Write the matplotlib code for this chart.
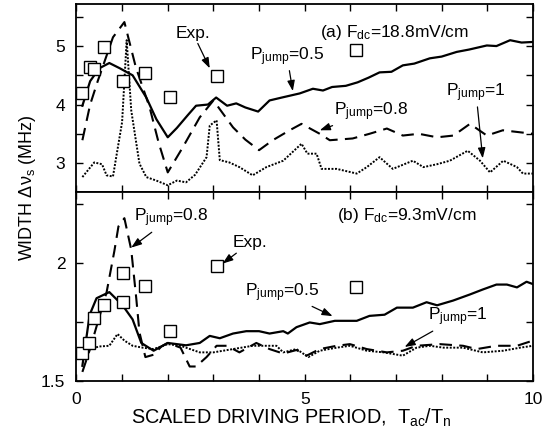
import matplotlib
matplotlib.use("Agg")
import matplotlib.pyplot as plt
from matplotlib.ticker import MultipleLocator

plt.rcParams.update({
    "font.family": ["Liberation Sans", "DejaVu Sans"],
    "mathtext.fontset": "custom",
    "mathtext.rm": "Liberation Sans",
    "mathtext.it": "Liberation Sans",
    "xtick.direction": "in",
    "ytick.direction": "in",
    "xtick.top": True,
    "ytick.right": True,
})

# ---- panel (a): F_dc = 18.8 mV/cm ----
a_exp_x = [0.13, 0.29, 0.39, 0.61, 1.01, 1.51, 2.04, 3.07, 6.12]
a_exp_y = [4.20, 4.65, 4.60, 4.98, 4.40, 4.54, 4.13, 4.48, 4.94]

a_p05_x = [0.13, 0.3, 0.5, 0.72, 0.95, 1.23, 1.53, 1.75, 2.0, 2.2, 2.44, 2.62, 2.88, 3.06,
           3.3, 3.5, 3.7, 3.98, 4.23, 4.5, 4.89, 5.18, 5.4, 5.6, 5.9, 6.16, 6.4, 6.64, 6.9,
           7.15, 7.4, 7.74, 8.0, 8.33, 8.6, 8.99, 9.2, 9.5, 9.75, 10.0]
a_p05_y = [3.98, 4.40, 4.62, 4.71, 4.62, 4.50, 4.12, 3.75, 3.44, 3.60, 3.82, 3.98, 4.00, 4.12,
           3.98, 4.02, 3.95, 3.88, 4.07, 4.12, 4.19, 4.27, 4.24, 4.30, 4.32, 4.38, 4.46, 4.55, 4.56,
           4.67, 4.70, 4.79, 4.82, 4.90, 4.94, 5.01, 5.00, 5.10, 5.06, 5.07]

a_p08_x = [0.13, 0.3, 0.47, 0.8, 1.05, 1.3, 1.6, 1.8, 2.0, 2.33, 2.7, 3.0, 3.43, 3.7, 4.0,
           4.3, 4.67, 4.93, 5.33, 5.55, 6.05, 6.42, 6.8, 7.15, 7.5, 7.9, 8.26, 8.62, 8.99,
           9.34, 10.0]
a_p08_y = [3.39, 4.00, 4.41, 5.15, 5.41, 4.64, 3.96, 3.35, 2.84, 3.27, 3.78, 4.07, 3.61, 3.40, 3.22,
           3.39, 3.56, 3.67, 3.50, 3.39, 3.42, 3.50, 3.59, 3.47, 3.50, 3.44, 3.47, 3.67, 3.47,
           3.56, 3.50]

a_p1_x = [0.13, 0.39, 0.56, 0.66, 0.8, 1.0, 1.1, 1.2, 1.38, 1.53, 1.75, 2.0, 2.2, 2.4, 2.6,
          2.85, 2.92, 3.07, 3.14, 3.35, 3.57, 3.86, 4.16, 4.53, 4.93, 5.06, 5.26, 5.37, 5.7,
          6.14, 6.36, 6.64, 6.93, 7.37, 7.6, 7.9, 8.18, 8.57, 8.84, 9.06, 9.35, 9.65, 9.78,
          10.0]
a_p1_y = [2.76, 3.01, 2.98, 2.79, 2.77, 3.70, 5.10, 3.90, 2.99, 2.76, 2.70, 2.62, 2.70, 2.67, 2.80,
          3.10, 3.64, 3.73, 3.05, 3.01, 2.93, 2.79, 2.93, 3.04, 3.33, 3.16, 3.16, 2.90, 2.90,
          2.82, 2.93, 3.10, 2.90, 3.04, 2.93, 2.98, 3.04, 3.21, 3.04, 2.84, 3.04, 2.93, 2.82,
          2.82]

# ---- panel (b): F_dc = 9.3 mV/cm ----
b_exp_x = [0.13, 0.27, 0.39, 0.60, 1.01, 1.01, 1.51, 2.04, 3.07, 6.12]
b_exp_y = [1.616, 1.66, 1.765, 1.82, 1.958, 1.834, 1.904, 1.71, 1.986, 1.896]

b_p05_x = [0.13, 0.29, 0.44, 0.72, 1.01, 1.23, 1.42, 1.69, 2.0, 2.4, 2.7, 2.92, 3.14, 3.43,
           3.72, 4.0, 4.23, 4.53, 4.63, 4.82, 5.11, 5.33, 5.66, 6.14, 6.42, 6.75, 7.02, 7.37,
           7.67, 7.9, 8.25, 8.62, 8.9, 9.2, 9.43, 9.65, 9.86, 10.0]
b_p05_y = [1.563, 1.78, 1.85, 1.876, 1.82, 1.76, 1.66, 1.627, 1.66, 1.65, 1.66, 1.69, 1.68, 1.70,
           1.71, 1.71, 1.70, 1.71, 1.70, 1.727, 1.747, 1.74, 1.754, 1.754, 1.775, 1.78, 1.81, 1.81,
           1.833, 1.82, 1.84, 1.866, 1.887, 1.908, 1.908, 1.896, 1.92, 1.91]

b_p08_x = [0.13, 0.29, 0.44, 0.66, 0.83, 0.92, 1.05, 1.2, 1.31, 1.38, 1.51, 1.69, 1.86, 2.0,
           2.28, 2.48, 2.62, 2.85, 3.07, 3.3, 3.57, 3.94, 4.23, 4.53, 4.82, 5.04, 5.33, 5.7,
           5.99, 6.36, 6.8, 7.15, 7.45, 7.96, 8.47, 8.77, 9.2, 9.65, 10.0]
b_p08_y = [1.537, 1.63, 1.73, 1.875, 2.05, 2.155, 2.19, 2.056, 1.85, 1.705, 1.60, 1.61, 1.645, 1.66,
           1.64, 1.56, 1.56, 1.60, 1.648, 1.648, 1.62, 1.66, 1.634, 1.615, 1.63, 1.606, 1.634, 1.648,
           1.655, 1.634, 1.62, 1.627, 1.648, 1.655, 1.648, 1.634, 1.648, 1.648, 1.67]

b_p1_x = [0.13, 0.35, 0.5, 0.72, 0.9, 1.05, 1.23, 1.45, 1.69, 2.0, 2.28, 2.7, 3.0, 3.43, 3.86,
          4.38, 4.53, 4.82, 5.08, 5.33, 5.7, 5.99, 6.36, 6.73, 7.15, 7.45, 7.74, 8.04, 8.47,
          8.9, 9.35, 9.72, 10.0]
b_p1_y = [1.63, 1.637, 1.645, 1.648, 1.698, 1.67, 1.648, 1.64, 1.634, 1.655, 1.648, 1.62, 1.62,
          1.634, 1.648, 1.648, 1.62, 1.634, 1.60, 1.627, 1.64, 1.648, 1.627, 1.62, 1.606, 1.64,
          1.648, 1.64, 1.64, 1.62, 1.627, 1.64, 1.648]

FS = 12.5
ARROW = dict(arrowstyle="-|>,head_length=0.5,head_width=0.18", color="black", lw=0.9,
             shrinkA=0, shrinkB=0)


def draw_panel(ax, exp_x, exp_y, p05, p08, p1):
    ax.plot(*p05, color="black", lw=1.6, ls="-")
    ax.plot(*p08, color="black", lw=1.5, ls=(0, (6, 3.5)))
    ax.plot(*p1, color="black", lw=1.4, ls=(0, (1, 0.8)))
    ax.plot(exp_x, exp_y, ls="none", marker="s", ms=8, mfc="white", mec="black", mew=1.0,
            zorder=5)
    ax.set_xlim(0, 10)
    ax.xaxis.set_major_locator(MultipleLocator(5))
    ax.xaxis.set_minor_locator(MultipleLocator(1))
    ax.tick_params(which="major", length=5, width=1, labelsize=12.5)
    ax.tick_params(which="minor", length=5, width=1)
    ax.tick_params(axis="y", pad=8)
    for sp in ax.spines.values():
        sp.set_linewidth(1.3)


fig, (ax1, ax2) = plt.subplots(2, 1, sharex=True, figsize=(5.54, 4.38), dpi=100)
fig.subplots_adjust(left=0.138, right=0.962, top=0.991, bottom=0.131, hspace=0)

draw_panel(ax1, a_exp_x, a_exp_y, (a_p05_x, a_p05_y), (a_p08_x, a_p08_y), (a_p1_x, a_p1_y))
ax1.set_ylim(2.5, 5.72)
ax1.yaxis.set_major_locator(MultipleLocator(1))
ax1.yaxis.set_minor_locator(MultipleLocator(0.5))
ax1.set_yticks([3, 4, 5])

draw_panel(ax2, b_exp_x, b_exp_y, (b_p05_x, b_p05_y), (b_p08_x, b_p08_y), (b_p1_x, b_p1_y))
ax2.set_ylim(1.5, 2.3)
ax2.set_yticks([1.5, 2.0])
ax2.set_yticklabels(["1.5", "2"])
ax2.yaxis.set_minor_locator(MultipleLocator(0.25))
ax2.set_xticks([0, 5, 10])
ax2.set_xticklabels(["0", "5", "10"])
ax2.tick_params(axis="x", pad=8)

# panel (a) labels
ax1.text(5.33, 5.23, r"(a) F$_{\rm dc}$=18.8mV/cm", fontsize=FS, va="center")
ax1.annotate("Exp.", xy=(2.92, 4.62), xytext=(2.55, 5.22), fontsize=FS, ha="center",
             va="center", arrowprops=ARROW)
ax1.annotate(r"P$_{\rm jump}$=0.5", xy=(4.74, 4.23), xytext=(3.8, 4.82), fontsize=FS,
             va="center", arrowprops=ARROW)
ax1.annotate(r"P$_{\rm jump}$=0.8", xy=(5.33, 3.56), xytext=(5.65, 3.88), fontsize=FS,
             va="center", arrowprops=ARROW)
ax1.annotate(r"P$_{\rm jump}$=1", xy=(8.9, 3.08), xytext=(8.1, 4.2), fontsize=FS,
             va="center", arrowprops=ARROW)

# panel (b) labels
ax2.text(5.7, 2.2, r"(b) F$_{\rm dc}$=9.3mV/cm", fontsize=FS, va="center")
ax2.annotate(r"P$_{\rm jump}$=0.8", xy=(1.2, 2.065), xytext=(1.25, 2.19), fontsize=FS,
             va="center", arrowprops=ARROW)
ax2.annotate("Exp.", xy=(3.2, 1.997), xytext=(3.42, 2.085), fontsize=FS, va="center",
             arrowprops=ARROW)
ax2.annotate(r"P$_{\rm jump}$=0.5", xy=(5.61, 1.774), xytext=(3.7, 1.875), fontsize=FS,
             va="center", arrowprops=ARROW)
ax2.annotate(r"P$_{\rm jump}$=1", xy=(7.19, 1.643), xytext=(7.7, 1.77), fontsize=FS,
             va="center", arrowprops=ARROW)

fig.text(0.049, 0.571, r"WIDTH $\Delta\nu_{\rm s}$ (MHz)", rotation=90, fontsize=13,
         ha="center", va="center")
fig.text(0.526, 0.045, r"SCALED DRIVING PERIOD,  T$_{\rm ac}$/T$_{\rm n}$", fontsize=14.3,
         ha="center", va="center")

fig.savefig("out.png", dpi=100)
